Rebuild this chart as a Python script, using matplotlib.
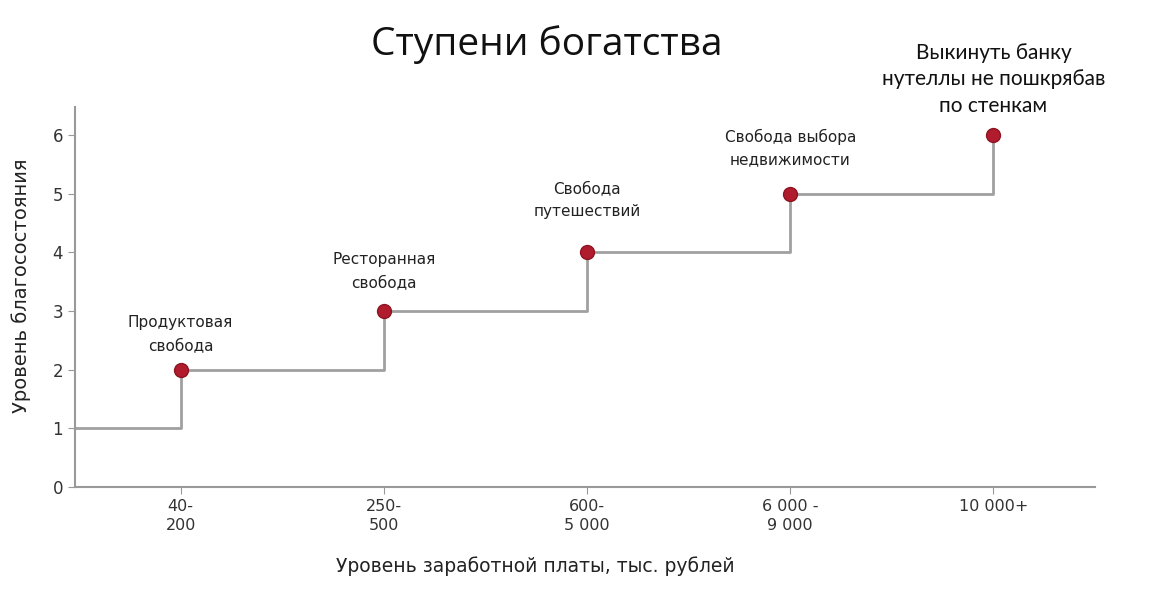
import matplotlib
matplotlib.use("Agg")
from matplotlib import pyplot as plt

salary = ["40-\n200", "250-\n500", "600-\n5 000", "6 000 -\n9 000", "10 000+"]
wealth = [2, 3, 4, 5, 6]
start_level = 1
labels = ["Продуктовая\nсвобода", "Ресторанная\nсвобода", "Свобода\nпутешествий",
          "Свобода выбора\nнедвижимости", "Выкинуть банку\nнутеллы не пошкрябав\nпо стенкам"]
label_gap = [12, 15, 24, 19, 14]

fig = plt.figure(figsize=(11.64, 5.91), dpi=100)
ax = fig.add_axes([0.0644, 0.176, 0.8763, 0.643])

xs = list(range(1, len(salary) + 1))
left = 0.48
ax.step([left] + xs, [start_level] + wealth, where="post", color="#a0a0a0", lw=2, zorder=2)
ax.plot(xs, wealth, "o", ms=10, color="#b01c2e", mec="#8e1422", mew=1, zorder=3)

for i, (x, y, t) in enumerate(zip(xs, wealth, labels)):
    if i == len(labels) - 1:
        ax.annotate(t, (x, y), xytext=(0, label_gap[i]), textcoords="offset points",
                    ha="center", va="bottom", fontsize=15, family=["Lato", "DejaVu Sans"],
                    color="#111111", linespacing=1.4)
    else:
        ax.annotate(t, (x, y), xytext=(0, label_gap[i]), textcoords="offset points",
                    ha="center", va="bottom", fontsize=11, color="#222222", linespacing=1.65)

ax.set_xlim(left, 5.5)
ax.set_ylim(0, 6.48)
ax.set_xticks(xs)
ax.set_xticklabels(salary, fontsize=11.5, color="#333333", linespacing=1.3)
ax.set_yticks(range(0, 7))
ax.tick_params(axis="y", labelsize=12, colors="#333333")
ax.tick_params(axis="both", color="#999999", length=5)
ax.tick_params(axis="x", pad=4)
for s in ["top", "right"]:
    ax.spines[s].set_visible(False)
for s in ["left", "bottom"]:
    ax.spines[s].set_color("#999999")
    ax.spines[s].set_linewidth(1.5)

ax.set_ylabel("Уровень благосостояния", fontsize=14, color="#222222")
ax.yaxis.set_label_coords(-0.043, 0.53)
fig.text(535 / 1164, 1 - 566 / 591, "Уровень заработной платы, тыс. рублей", ha="center", va="center",
         fontsize=13.5, color="#222222")
fig.text(547 / 1164, 1 - 45 / 591, "Ступени богатства", ha="center", va="center",
         fontsize=28, color="#111111", family=["Open Sans", "DejaVu Sans"])

fig.savefig("out.png", dpi=100)
